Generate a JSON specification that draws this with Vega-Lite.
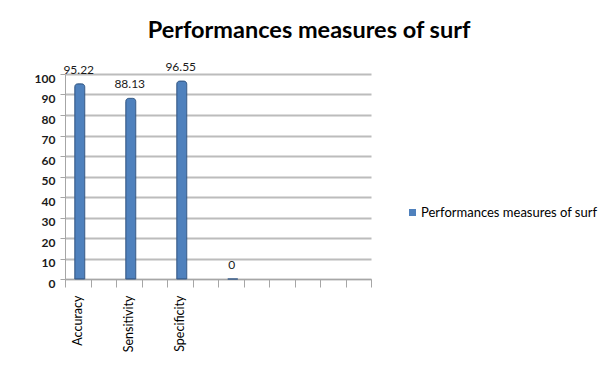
{
  "$schema": "https://vega.github.io/schema/vega-lite/v6.json",
  "width": 306,
  "height": 205,
  "autosize": "none",
  "padding": {"left": 65, "top": 74, "right": 231, "bottom": 95},
  "background": "white",
  "config": {
    "font": "Lato",
    "view": {"stroke": null}
  },
  "title": {
    "text": "Performances measures of surf",
    "font": "Lato",
    "fontSize": 23.5,
    "fontWeight": "bold",
    "color": "#000000",
    "anchor": "middle",
    "dx": 91,
    "offset": 19
  },
  "data": {
    "values": [
      {"measure": "Accuracy", "value": 95.22},
      {"measure": " ", "value": null},
      {"measure": "Sensitivity", "value": 88.13},
      {"measure": "  ", "value": null},
      {"measure": "Specificity", "value": 96.55},
      {"measure": "   ", "value": null},
      {"measure": "    ", "value": 0},
      {"measure": "     ", "value": null},
      {"measure": "      ", "value": null},
      {"measure": "       ", "value": null},
      {"measure": "        ", "value": null},
      {"measure": "         ", "value": null}
    ]
  },
  "encoding": {
    "x": {
      "field": "measure",
      "type": "nominal",
      "sort": null,
      "scale": {
        "domain": ["Accuracy", " ", "Sensitivity", "  ", "Specificity", "   ", "    ", "     ", "      ", "       ", "        ", "         "],
        "paddingInner": 0,
        "paddingOuter": 0
      },
      "axis": {
        "title": null,
        "labelAngle": -90,
        "labelFont": "Lato",
        "labelFontSize": 12.5,
        "labelColor": "#000000",
        "tickBand": "extent",
        "tickSize": 8,
        "tickColor": "#a6a6a6",
        "domainColor": "#a6a6a6",
        "labelPadding": 8,
        "grid": false
      }
    },
    "y": {
      "field": "value",
      "type": "quantitative",
      "scale": {"domain": [0, 100], "nice": false},
      "axis": {
        "title": null,
        "values": [0, 10, 20, 30, 40, 50, 60, 70, 80, 90, 100],
        "labelFont": "Lato",
        "labelFontSize": 12,
        "labelFontWeight": "bold",
        "labelColor": "#1a1a1a",
        "labelOffset": 4,
        "labelPadding": 5,
        "tickSize": 5,
        "tickColor": "#a6a6a6",
        "domainColor": "#a6a6a6",
        "gridColor": "#bcbcbc",
        "gridWidth": 2
      }
    }
  },
  "layer": [
    {
      "mark": {
        "type": "bar",
        "size": 10,
        "xOffset": 2,
        "stroke": "#385d8a",
        "strokeWidth": 1,
        "cornerRadiusTopLeft": 3,
        "cornerRadiusTopRight": 3
      },
      "encoding": {
        "color": {
          "datum": "Performances measures of surf",
          "type": "nominal",
          "scale": {"range": ["#4f81bd"]},
          "legend": {
            "title": null,
            "orient": "none",
            "legendX": 341,
            "legendY": 132,
            "symbolType": "square",
            "symbolSize": 49,
            "symbolStrokeWidth": 0,
            "labelOffset": 2,
            "labelFont": "Lato",
            "labelFontSize": 13,
            "labelLimit": 400,
            "labelColor": "#000000"
          }
        }
      }
    },
    {
      "mark": {
        "type": "text",
        "baseline": "bottom",
        "dy": -7,
        "xOffset": 1,
        "font": "Lato",
        "fontSize": 12,
        "color": "#1a1a1a"
      },
      "encoding": {
        "text": {"field": "value", "type": "quantitative"}
      }
    }
  ]
}
